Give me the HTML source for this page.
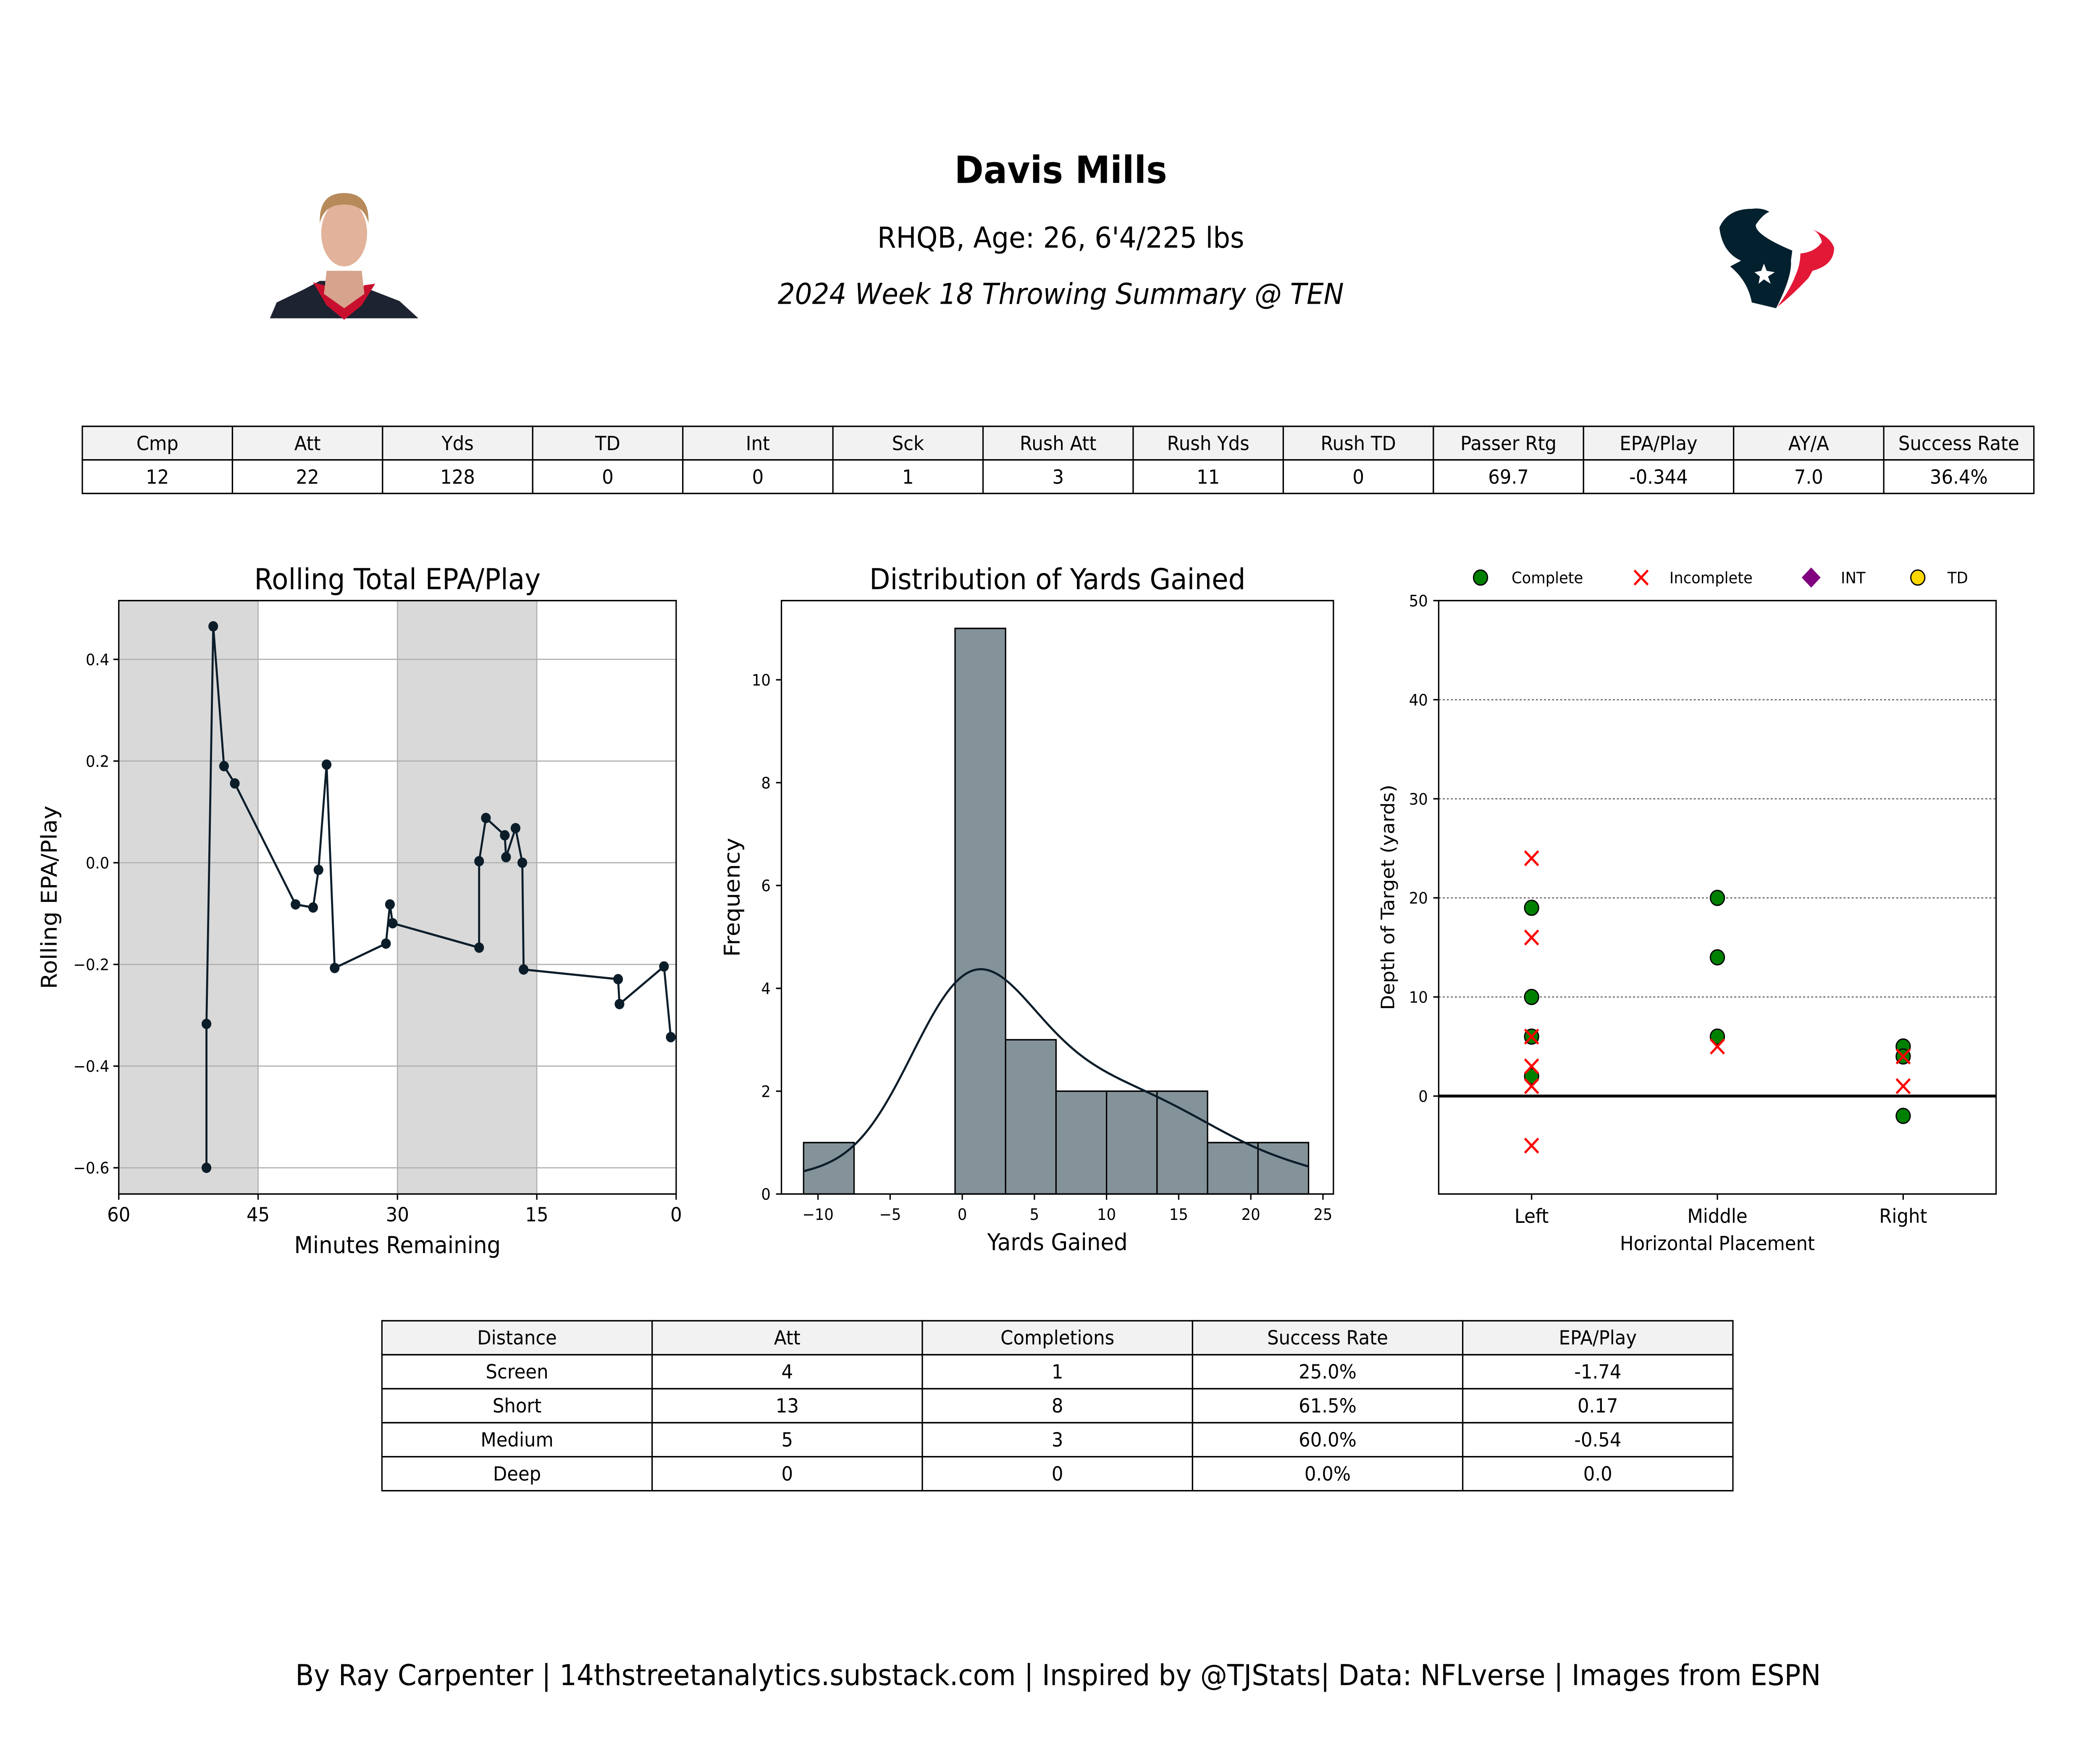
<!DOCTYPE html>
<html><head><meta charset="utf-8"><style>
html,body{margin:0;padding:0;background:#fff;width:100%;height:100%;overflow:hidden}
svg{display:block;position:fixed;left:0;top:0;width:100vw;height:100vh}
text{font-family:"DejaVu Sans","Liberation Sans",sans-serif}
</style></head><body>
<svg id="root" xmlns="http://www.w3.org/2000/svg" viewBox="0 0 1556 1206" preserveAspectRatio="none">
<rect width="1556" height="1206" fill="#fff"/>
<text x="786" y="127" font-size="26" font-weight="bold" text-anchor="middle">Davis Mills</text>
<text x="786" y="172" font-size="20" text-anchor="middle">RHQB, Age: 26, 6'4/225 lbs</text>
<text x="786" y="211" font-size="20" font-style="italic" text-anchor="middle">2024 Week 18 Throwing Summary @ TEN</text>
<g>
<path d="M200,221 L205,210 L225,201 L237,195 L262,195 L274,201 L296,209 L310,221 Z" fill="#1d2330"/>
<path d="M232,196 L242,212 L255,222 L268,212 L278,197 L270,198 L255,214 L240,198 Z" fill="#c8102e"/>
<path d="M242,188 L268,188 L270,204 L255,214 L240,204 Z" fill="#d6a48c"/>
<ellipse cx="255" cy="162" rx="17" ry="23" fill="#e2b39a"/>
<path d="M237,155 Q236,134 255,134 Q274,134 273,155 Q270,142 255,142 Q240,142 237,155 Z" fill="#b88a5a"/>
</g>
<g>
<path d="M1298,145 Q1280,145 1274,158 Q1276,175 1290,181 L1282,185 Q1295,195 1298,210 L1316,214 Q1328,192 1327,181 L1328,174 Q1300,163 1301,156 Q1306,149 1311,147 Q1305,144 1298,145 Z" fill="#03202f"/>
<polygon points="1307,183 1309,188 1315,189 1310,192 1312,197 1307,194 1303,197 1304,192 1300,189 1305,188" fill="#fff"/>
<path d="M1334,176 Q1345,175 1350,168 Q1348,161 1342,159 Q1356,164 1359,172 Q1359,184 1343,188 L1340,193 Q1328,205 1317,213 Q1327,200 1330,192 Q1334,184 1334,176 Z" fill="#e31837"/>
</g>
<g id="t1"></g>
<g id="c1"></g>
<g id="c2"></g>
<g id="c3"></g>
<g id="t2"></g>
<text x="784" y="1170" font-size="20" text-anchor="middle">By Ray Carpenter | 14thstreetanalytics.substack.com | Inspired by @TJStats| Data: NFLverse | Images from ESPN</text>
</svg>
<script>
// ---------- data ----------
const statHeaders = ["Cmp","Att","Yds","TD","Int","Sck","Rush Att","Rush Yds","Rush TD","Passer Rtg","EPA/Play","AY/A","Success Rate"];
const statValues = ["12","22","128","0","0","1","3","11","0","69.7","-0.344","7.0","36.4%"];
const epaMinutes = [50.56,50.56,49.83,48.67,47.51,40.97,39.08,38.50,37.63,36.76,31.24,30.81,30.52,21.21,21.21,20.48,18.45,18.31,17.29,16.56,16.42,6.25,6.10,1.31,0.58];
const epaValues = [-0.600,-0.317,0.465,0.190,0.156,-0.082,-0.088,-0.014,0.193,-0.207,-0.159,-0.082,-0.119,-0.167,0.003,0.088,0.054,0.011,0.068,0.000,-0.210,-0.229,-0.278,-0.204,-0.343];
const epaTicksY = [0.4,0.2,0.0,-0.2,-0.4,-0.6];
const epaTickLabelsY = ["0.4","0.2","0.0","−0.2","−0.4","−0.6"];
const minuteTicks = [60,45,30,15,0];
const yardsGained = [-11,0,0,0,0,0,0,0,0,0,0,2,4,5,6,8,9,11,12,14,16,18,24];
const histBinEdges = [-11,-7.5,-4,-0.5,3,6.5,10,13.5,17,20.5,24];
const histTicksX = [-10,-5,0,5,10,15,20,25];
const histTicksY = [0,2,4,6,8,10];
const placeCats = ["Left","Middle","Right"];
const completeCat = [0,0,0,0,1,1,1,2,2,2];
const completeDepth = [19,10,6,2,20,14,6,5,4,-2];
const incompleteCat = [0,0,0,0,0,0,1,2,2];
const incompleteDepth = [24,16,6,3,1,-5,5,4,1];
const depthTicks = [0,10,20,30,40,50];
const distHeaders = ["Distance","Att","Completions","Success Rate","EPA/Play"];
const distRows = [["Screen","4","1","25.0%","-1.74"],["Short","13","8","61.5%","0.17"],["Medium","5","3","60.0%","-0.54"],["Deep","0","0","0.0%","0.0"]];

const NS="http://www.w3.org/2000/svg";
function mk(parent,tag,attrs,txt){const e=document.createElementNS(NS,tag);for(const k in attrs)e.setAttribute(k,attrs[k]);if(txt!==undefined)e.textContent=txt;parent.appendChild(e);return e;}

// ---------- table 1 ----------
(function(){
const g=document.getElementById('t1');const x0=61,x1=1507,y0=296,rh=23.3;const cw=(x1-x0)/statHeaders.length;
statHeaders.forEach((h,i)=>{
 const c=mk(g,'rect',{x:x0+i*cw,y:y0,width:cw,height:rh,fill:'#f2f2f2',stroke:'#000','stroke-width':1});
 
 const t=mk(g,'text',{x:x0+i*cw+cw/2,y:y0+16.5,'font-size':13.5,'text-anchor':'middle'},h);
 
 const c2=mk(g,'rect',{x:x0+i*cw,y:y0+rh,width:cw,height:rh,fill:'#fff',stroke:'#000','stroke-width':1});
 
 const t2=mk(g,'text',{x:x0+i*cw+cw/2,y:y0+rh+16.5,'font-size':13.5,'text-anchor':'middle'},statValues[i]);
 
});
})();

// ---------- chart 1 ----------
(function(){
const g=document.getElementById('c1');const L=88,R=501,T=417,B=829;
const X=m=>R-(m/60)*(R-L);const Y=v=>599-v*(353/1.0);
[[60,45],[30,15]].forEach(s=>{const r=mk(g,'rect',{x:X(s[0]),y:T,width:X(s[1])-X(s[0]),height:B-T,fill:'#d9d9d9'});});
minuteTicks.forEach(m=>{const l=mk(g,'line',{x1:X(m),x2:X(m),y1:T,y2:B,stroke:'#b0b0b0','stroke-width':0.8});
 const tk=mk(g,'line',{x1:X(m),x2:X(m),y1:B,y2:B+4,stroke:'#000'});
 const t=mk(g,'text',{x:X(m),y:B+19,'font-size':13.5,'text-anchor':'middle'},String(m));});
epaTicksY.forEach((v,i)=>{const l=mk(g,'line',{x1:L,x2:R,y1:Y(v),y2:Y(v),stroke:'#b0b0b0','stroke-width':0.8});
 const tk=mk(g,'line',{x1:L-4,x2:L,y1:Y(v),y2:Y(v),stroke:'#000'});
 const t=mk(g,'text',{x:L-7,y:Y(v)+4,'font-size':11,'text-anchor':'end'},epaTickLabelsY[i]);});
const pts=epaMinutes.map((m,i)=>X(m)+','+Y(epaValues[i])).join(' ');
const pl=mk(g,'polyline',{points:pts,fill:'none',stroke:'#0c1d2a','stroke-width':1.5});
epaMinutes.forEach((m,i)=>{const c=mk(g,'circle',{cx:X(m),cy:Y(epaValues[i]),r:3.6,fill:'#0c1d2a'});});
const f=mk(g,'rect',{x:L,y:T,width:R-L,height:B-T,fill:'none',stroke:'#000','stroke-width':1});
let t=mk(g,'text',{x:(L+R)/2,y:409,'font-size':20,'text-anchor':'middle'},'Rolling Total EPA/Play');
t=mk(g,'text',{x:(L+R)/2,y:870,'font-size':16,'text-anchor':'middle'},'Minutes Remaining');
t=mk(g,'text',{x:42,y:623,'font-size':16,'text-anchor':'middle',transform:'rotate(-90 42 623)'},'Rolling EPA/Play');
})();

// ---------- chart 2 ----------
(function(){
const g=document.getElementById('c2');const L=579,R=988,T=417,B=829;
const X=v=>713+v*10.69;const Y=c=>B-c*35.7;
const counts=histBinEdges.slice(0,-1).map((e,i)=>yardsGained.filter(v=>v>=e&&(i===histBinEdges.length-2?v<=histBinEdges[i+1]:v<histBinEdges[i+1])).length);
counts.forEach((c,i)=>{if(!c)return;const r=mk(g,'rect',{x:X(histBinEdges[i]),y:Y(c),width:X(histBinEdges[i+1])-X(histBinEdges[i]),height:B-Y(c),fill:'#84939a',stroke:'#000','stroke-width':1});});
const n=yardsGained.length;const mean=yardsGained.reduce((a,b)=>a+b,0)/n;
const sd=Math.sqrt(yardsGained.reduce((a,b)=>a+(b-mean)*(b-mean),0)/(n-1));const bw=sd*Math.pow(n,-0.2);
const binW=histBinEdges[1]-histBinEdges[0];const lo=Math.min(...yardsGained),hi=Math.max(...yardsGained);
let d='';for(let k=0;k<=200;k++){const x=lo+(hi-lo)*k/200;let s=0;yardsGained.forEach(v=>{s+=Math.exp(-0.5*Math.pow((x-v)/bw,2));});const dens=s/(n*bw*Math.sqrt(2*Math.PI));const cnt=dens*n*binW;d+=(k?'L':'M')+X(x).toFixed(2)+','+Y(cnt).toFixed(2);}
const p=mk(g,'path',{d:d,fill:'none',stroke:'#0c1d2a','stroke-width':1.5});
histTicksX.forEach(v=>{const tk=mk(g,'line',{x1:X(v),x2:X(v),y1:B,y2:B+4,stroke:'#000'});
 const t=mk(g,'text',{x:X(v),y:B+18,'font-size':11,'text-anchor':'middle'},v<0?'−'+Math.abs(v):String(v));});
histTicksY.forEach(v=>{const tk=mk(g,'line',{x1:L-4,x2:L,y1:Y(v),y2:Y(v),stroke:'#000'});
 const t=mk(g,'text',{x:L-8,y:Y(v)+4,'font-size':11,'text-anchor':'end'},String(v));});
const f=mk(g,'rect',{x:L,y:T,width:R-L,height:B-T,fill:'none',stroke:'#000','stroke-width':1});
let t=mk(g,'text',{x:(L+R)/2,y:409,'font-size':20,'text-anchor':'middle'},'Distribution of Yards Gained');
t=mk(g,'text',{x:(L+R)/2,y:868,'font-size':16,'text-anchor':'middle'},'Yards Gained');
t=mk(g,'text',{x:548,y:623,'font-size':16,'text-anchor':'middle',transform:'rotate(-90 548 623)'},'Frequency');
})();

// ---------- chart 3 ----------
(function(){
const g=document.getElementById('c3');const L=1066,R=1479,T=417,B=829;
const X=c=>L+(c+0.5)*(R-L)/3;const Y=v=>761-v*6.88;
depthTicks.forEach(v=>{if(v>0&&v<50){const l=mk(g,'line',{x1:L,x2:R,y1:Y(v),y2:Y(v),stroke:'#777','stroke-width':0.9,'stroke-dasharray':'1.5,1.5'});}
 const tk=mk(g,'line',{x1:L-4,x2:L,y1:Y(v),y2:Y(v),stroke:'#000'});
 const t=mk(g,'text',{x:L-8,y:Y(v)+4,'font-size':11,'text-anchor':'end'},String(v));});
const z=mk(g,'line',{x1:L,x2:R,y1:Y(0),y2:Y(0),stroke:'#000','stroke-width':2});
placeCats.forEach((c,i)=>{const tk=mk(g,'line',{x1:X(i),x2:X(i),y1:B,y2:B+4,stroke:'#000'});
 const t=mk(g,'text',{x:X(i),y:B+20,'font-size':13.5,'text-anchor':'middle'},c);});
completeCat.forEach((c,i)=>{const e=mk(g,'circle',{cx:X(c),cy:Y(completeDepth[i]),r:5.2,fill:'#008000',stroke:'#000','stroke-width':0.9});});
incompleteCat.forEach((c,i)=>{const x=X(c),y=Y(incompleteDepth[i]),s=5;const e=mk(g,'path',{d:`M${x-s},${y-s}L${x+s},${y+s}M${x-s},${y+s}L${x+s},${y-s}`,stroke:'#ff0000','stroke-width':1.6,fill:'none'});});
const f=mk(g,'rect',{x:L,y:T,width:R-L,height:B-T,fill:'none',stroke:'#000','stroke-width':1});
let t=mk(g,'text',{x:(L+R)/2,y:868,'font-size':13.5,'text-anchor':'middle'},'Horizontal Placement');
t=mk(g,'text',{x:1033,y:623,'font-size':13.5,'text-anchor':'middle',transform:'rotate(-90 1033 623)'},'Depth of Target (yards)');
const lg=mk(g,'g',{});
let e=mk(lg,'circle',{cx:1097,cy:401,r:5.2,fill:'#008000',stroke:'#000','stroke-width':0.9});
t=mk(lg,'text',{x:1120,y:405,'font-size':11},'Complete');
e=mk(lg,'path',{d:'M1211,396L1221,406M1211,406L1221,396',stroke:'#ff0000','stroke-width':1.6});
t=mk(lg,'text',{x:1237,y:405,'font-size':11},'Incomplete');
e=mk(lg,'polygon',{points:'1342,394 1349,401 1342,408 1335,401',fill:'#800080'});
t=mk(lg,'text',{x:1364,y:405,'font-size':11},'INT');
e=mk(lg,'circle',{cx:1421,cy:401,r:5.2,fill:'#ffd700',stroke:'#000','stroke-width':0.9});
t=mk(lg,'text',{x:1443,y:405,'font-size':11},'TD');
})();

// ---------- table 2 ----------
(function(){
const g=document.getElementById('t2');const x0=283,x1=1284,y0=917,rh=23.6;const cw=(x1-x0)/distHeaders.length;
const rows=[distHeaders].concat(distRows);
rows.forEach((row,r)=>row.forEach((v,i)=>{
 const c=mk(g,'rect',{x:x0+i*cw,y:y0+r*rh,width:cw,height:rh,fill:r?'#fff':'#f2f2f2',stroke:'#000','stroke-width':1});
 
 const t=mk(g,'text',{x:x0+i*cw+cw/2,y:y0+r*rh+16.5,'font-size':13.5,'text-anchor':'middle'},v);
 
}));
})();
</script>
</body></html>
